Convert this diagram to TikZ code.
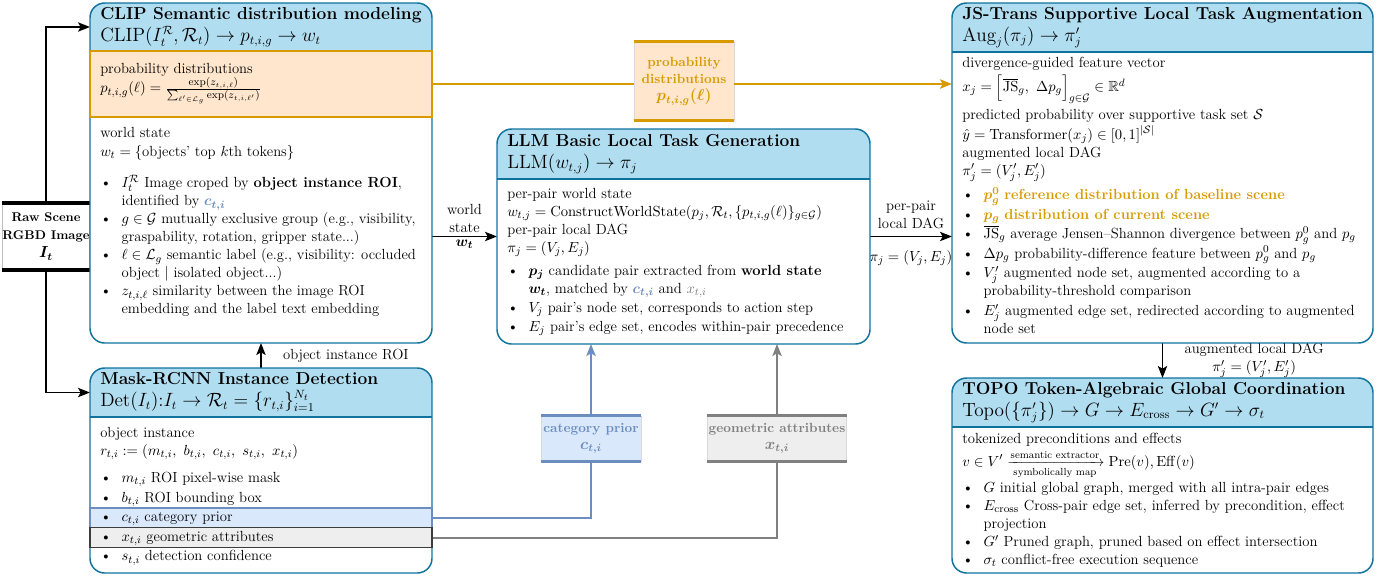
\documentclass[tikz,border=0pt]{standalone}
\usepackage{amsmath}
\usepackage{amssymb}
\usepackage{bm}
\usepackage{enumitem}
\usetikzlibrary{arrows.meta, positioning, fit}

\definecolor{headfill}{HTML}{B1DDF0}
\definecolor{headline}{HTML}{10739E}
\definecolor{orfill}{HTML}{FFE6CC}
\definecolor{orline}{HTML}{D79B00}
\definecolor{catfill}{HTML}{DAE8FC}
\definecolor{catline}{HTML}{6C8EBF}
\definecolor{geofill}{HTML}{EEEEEE}
\definecolor{geoline}{HTML}{808080}
\definecolor{geodark}{HTML}{3C3C3C}

\setlist[itemize]{label=\textbullet, leftmargin=16pt, labelwidth=9pt, labelsep=7pt, align=left,
  itemsep=0pt, parsep=0pt, topsep=0pt, partopsep=0pt}
\newenvironment{bullets}[2][]{\begin{minipage}[t]{#2}\raggedright\begin{itemize}[#1]}{\end{itemize}\end{minipage}}

% module outline: white body, blue title strip, rounded frame
\newcommand{\modframe}[2]{%
  \begin{scope}
    \clip[rounded corners=11pt] (#1.north west) rectangle (#1.south east);
    \fill[white] (#1.north west) rectangle (#1.south east);
    \fill[headfill] (#1.north west) rectangle (#2.south east);
  \end{scope}
  \draw[modline] (#2.south west) -- (#2.south east);
  \draw[modline, rounded corners=11pt] (#1.north west) rectangle (#1.south east);
}
% thick bars on top and bottom of a tag box
\newcommand{\tagbars}[3]{\draw[#2, line width=#3] (#1.north west) -- (#1.north east) (#1.south west) -- (#1.south east);}
% highlighted row inside a module
\newcommand{\band}[3]{\draw[fill=#2, draw=#3, line width=1pt] (#1.south west) rectangle (#1.north east);}
% formula line of a title strip
\newcommand{\headmath}[1]{{\fontsize{13.5}{16.5}\selectfont$#1$}}

\begin{document}
\begin{tikzpicture}[x=0.75pt, y=0.75pt,
  geom/.style={inner sep=0pt, outer sep=0pt},
  modline/.style={draw=headline, line width=1.1pt},
  headtxt/.style={anchor=west, align=left, inner sep=0pt, font=\fontsize{13}{16.5}\selectfont},
  bodytxt/.style={anchor=north west, align=left, inner sep=0pt, font=\fontsize{11}{13.5}\selectfont},
  lbl/.style={inner sep=2pt, font=\fontsize{11}{13.5}\selectfont},
  rawbox/.style={draw=black!25, line width=0.6pt, fill=white, minimum width=54pt, minimum height=49pt,
    align=center, inner sep=0pt, font=\bfseries\fontsize{9.5}{13.5}\selectfont},
  tagbox/.style={draw=black!15, line width=0.5pt, align=center, inner sep=1pt,
    font=\bfseries\fontsize{10}{13}\selectfont},
  arr/.style={-{Stealth[length=9pt, width=7pt, inset=2pt]}, line width=1.1pt},
  tipped/.style={-{Stealth[length=9pt, width=7pt, inset=2pt]}},
  orwire/.style={draw=orline, line width=1.5pt},
  catwire/.style={draw=catline, line width=1.5pt},
  geowire/.style={draw=geoline, line width=1.5pt}]

\useasboundingbox (0,0) rectangle (1390,-576);

% module geometry
\node[geom, fit={(90,-3) (432,-343)}] (clip) {};
\node[geom, fit={(90,-3) (432,-51)}] (clipHead) {};
\node[geom, fit={(90,-51) (432,-117)}] (probRow) {};
\node[geom, fit={(90,-368) (432,-573)}] (mask) {};
\node[geom, fit={(90,-368) (432,-417)}] (maskHead) {};
\node[geom, fit={(90,-508) (432,-527.5)}] (catRow) {};
\node[geom, fit={(90,-527.5) (432,-547.5)}] (geoRow) {};
\node[geom, fit={(497,-129) (870,-344)}] (llm) {};
\node[geom, fit={(497,-129) (870,-179)}] (llmHead) {};
\node[geom, fit={(952,-3) (1373,-343)}] (js) {};
\node[geom, fit={(952,-3) (1373,-52)}] (jsHead) {};
\node[geom, fit={(952,-378) (1373,-573)}] (topo) {};
\node[geom, fit={(952,-378) (1373,-427)}] (topoHead) {};

% input image and side tags
\node[rawbox] (raw) at (46,-236.5) {Raw Scene\\RGBD Image\\{\fontsize{12}{13}\selectfont$\bm{I_t}$}};
\tagbars{raw}{black}{3pt}
\node[tagbox, fill=orfill, text=orline, minimum width=75pt, minimum height=58.5pt] (prob) at (684,-81)
  {probability\\distributions\\{\fontsize{12}{13}\selectfont$\bm{p_{t,i,g}(\ell)}$}};
\tagbars{prob}{orline}{2.2pt}
\node[tagbox, fill=catfill, text=catline, minimum width=75pt, minimum height=33.75pt] (cat) at (591,-438.5)
  {category prior\\{\fontsize{12}{12}\selectfont$\bm{c_{t,i}}$}};
\tagbars{cat}{catline}{2.2pt}
\node[tagbox, fill=geofill, text=geoline, minimum width=103.5pt, minimum height=33.75pt] (geo) at (777,-438.5)
  {geometric attributes\\{\fontsize{12}{12}\selectfont$\bm{x_{t,i}}$}};
\tagbars{geo}{geoline}{2.2pt}

% connectors
\draw[arr] (raw.north) |- (clipHead.west);
\draw[arr] (raw.south) |- (maskHead.west);
\draw[arr] (mask.north) -- (clip.south) node[midway, right=14pt, lbl] {object instance ROI};
\draw[arr] (clip.east |- llm.west) -- (llm.west)
  node[midway, above, lbl, align=center] {world\\state}
  node[midway, below, lbl] {$\bm{w_t}$};
\draw[arr] (llm.east) -- (llm.east -| js.west)
  node[midway, above=3pt, lbl, align=center] {per-pair\\local DAG}
  node[midway, below=8pt, lbl] {$\pi_j = (V_j, E_j)$};
\draw[arr] (js.south) -- (topo.north)
  node[midway, right=14pt, lbl, align=center] {augmented local DAG\\$\pi'_j = (V'_j, E'_j)$};
\draw[orwire] (probRow.east) -- (probRow.east -| prob.west);
\draw[orwire, tipped] (probRow.east -| prob.east) -- (probRow.east -| js.west);
\draw[catwire] (catRow.east) -| (cat.south);
\draw[catwire, tipped] (cat.north) -- (cat.north |- llm.south);
\draw[geowire] (geoRow.east) -| (geo.south);
\draw[geowire, tipped] (geo.north) -- (geo.north |- llm.south);

% module frames and rows
\modframe{clip}{clipHead}
\band{probRow}{orfill}{orline}
\modframe{mask}{maskHead}
\band{catRow}{catfill}{catline}
\band{geoRow}{geofill}{geodark}
\modframe{llm}{llmHead}
\modframe{js}{jsHead}
\modframe{topo}{topoHead}

% CLIP
\node[headtxt] (clipTitle) at ([xshift=7.5pt]clipHead.west)
  {\textbf{CLIP Semantic distribution modeling}\\\headmath{\mathrm{CLIP}(I_t^{\mathcal{R}}, \mathcal{R}_t) \rightarrow p_{t,i,g} \rightarrow w_t}};
\node[bodytxt] (clipProb) at (100,-63)
  {probability distributions\\$p_{t,i,g}(\ell) = \frac{\exp(z_{t,i,\ell})}{\sum_{\ell'\in\mathcal{L}_g}\exp(z_{t,i,\ell'})}$};
\node[bodytxt] (clipWorld) at (100,-127)
  {world state\\[1pt]$w_t = \{\text{objects' top } k\text{th tokens}\}$};
\node[bodytxt] (clipList) at (100,-175) {\begin{bullets}{250pt}
  \item $I_t^{\mathcal{R}}$ Image croped by \textbf{object instance ROI},\newline identified by $\textcolor{catline}{\bm{c_{t,i}}}$
  \item $g \in \mathcal{G}$ mutually exclusive group (e.g., visibility,\newline graspability, rotation, gripper state...)
  \item $\ell \in \mathcal{L}_g$ semantic label (e.g., visibility: occluded\newline object | isolated object...)
  \item $z_{t,i,\ell}$ similarity between the image ROI\newline embedding and the label text embedding
\end{bullets}};

% Mask-RCNN
\node[headtxt] (maskTitle) at ([xshift=7.5pt]maskHead.west)
  {\textbf{Mask-RCNN Instance Detection}\\\headmath{\mathrm{Det}(I_t){:}I_t \rightarrow \mathcal{R}_t = \{r_{t,i}\}_{i=1}^{N_t}}};
\node[bodytxt] (maskObj) at (100,-427)
  {object instance\\$r_{t,i} := (m_{t,i},\ b_{t,i},\ c_{t,i},\ s_{t,i},\ x_{t,i})$};
\node[bodytxt] (maskList) at (100,-472) {\begin{bullets}[itemsep=1.2pt]{250pt}
  \item $m_{t,i}$ ROI pixel-wise mask
  \item $b_{t,i}$ ROI bounding box
  \item $c_{t,i}$ category prior
  \item $x_{t,i}$ geometric attributes
  \item $s_{t,i}$ detection confidence
\end{bullets}};

% LLM
\node[headtxt] (llmTitle) at ([xshift=7.5pt]llmHead.west)
  {\textbf{LLM Basic Local Task Generation}\\\headmath{\mathrm{LLM}(w_{t,j}) \rightarrow \pi_j}};
\node[bodytxt] (llmIntro) at (507,-188)
  {per-pair world state\\$w_{t,j} = \mathrm{ConstructWorldState}(p_j, \mathcal{R}_t, \{p_{t,i,g}(\ell)\}_{g\in\mathcal{G}})$\\per-pair local DAG\\$\pi_j = (V_j, E_j)$};
\node[bodytxt] (llmList) at (507,-265) {\begin{bullets}[itemsep=0.8pt]{272pt}
  \item $\bm{p_j}$ candidate pair extracted from \textbf{world state}\newline $\bm{w_t}$, matched by $\textcolor{catline}{\bm{c_{t,i}}}$ and $\textcolor{geoline}{x_{t,i}}$
  \item $V_j$ pair's node set, corresponds to action step
  \item $E_j$ pair's edge set, encodes within-pair precedence
\end{bullets}};

% JS-Trans
\node[headtxt] (jsTitle) at ([xshift=7.5pt]jsHead.west)
  {\textbf{JS-Trans Supportive Local Task Augmentation}\\\headmath{\mathrm{Aug}_j(\pi_j) \rightarrow \pi'_j}};
\node[bodytxt] (jsIntro) at (962,-57)
  {divergence-guided feature vector\\[2pt]$x_j = \Big[\overline{\mathrm{JS}}_g,\ \Delta p_g\Big]_{g\in\mathcal{G}} \in \mathbb{R}^d$\\[3pt]predicted probability over supportive task set $\mathcal{S}$\\[1.5pt]$\hat{y} = \mathrm{Transformer}(x_j) \in [0,1]^{|\mathcal{S}|}$\\augmented local DAG\\$\pi'_j = (V'_j, E'_j)$};
\node[bodytxt] (jsList) at (962,-187) {\begin{bullets}[itemsep=1.2pt]{306pt}
  \item \textcolor{orline}{$\bm{p_g^0}$ \textbf{reference distribution of baseline scene}}
  \item \textcolor{orline}{$\bm{p_g}$ \textbf{distribution of current scene}}
  \item $\overline{\mathrm{JS}}_g$ average Jensen--Shannon divergence between $p_g^0$ and $p_g$
  \item $\Delta p_g$ probability-difference feature between $p_g^0$ and $p_g$
  \item $V'_j$ augmented node set, augmented according to a\newline probability-threshold comparison
  \item $E'_j$ augmented edge set, redirected according to augmented\newline node set
\end{bullets}};

% TOPO
\node[headtxt] (topoTitle) at ([xshift=7.5pt]topoHead.west)
  {\textbf{TOPO Token-Algebraic Global Coordination}\\\headmath{\mathrm{Topo}(\{\pi'_j\}) \rightarrow G \rightarrow E_{\mathrm{cross}} \rightarrow G' \rightarrow \sigma_t}};
\node[bodytxt] (topoIntro) at (962,-433)
  {tokenized preconditions and effects\\[1.5pt]$v \in V' \xrightarrow[\text{symbolically map}]{\text{semantic extractor}} \mathrm{Pre}(v), \mathrm{Eff}(v)$};
\node[bodytxt] (topoList) at (962,-482) {\begin{bullets}{306pt}
  \item $G$ initial global graph, merged with all intra-pair edges
  \item $E_{\mathrm{cross}}$ Cross-pair edge set, inferred by precondition, effect\newline projection
  \item $G'$ Pruned graph, pruned based on effect intersection
  \item $\sigma_t$ conflict-free execution sequence
\end{bullets}};

\end{tikzpicture}
\end{document}
